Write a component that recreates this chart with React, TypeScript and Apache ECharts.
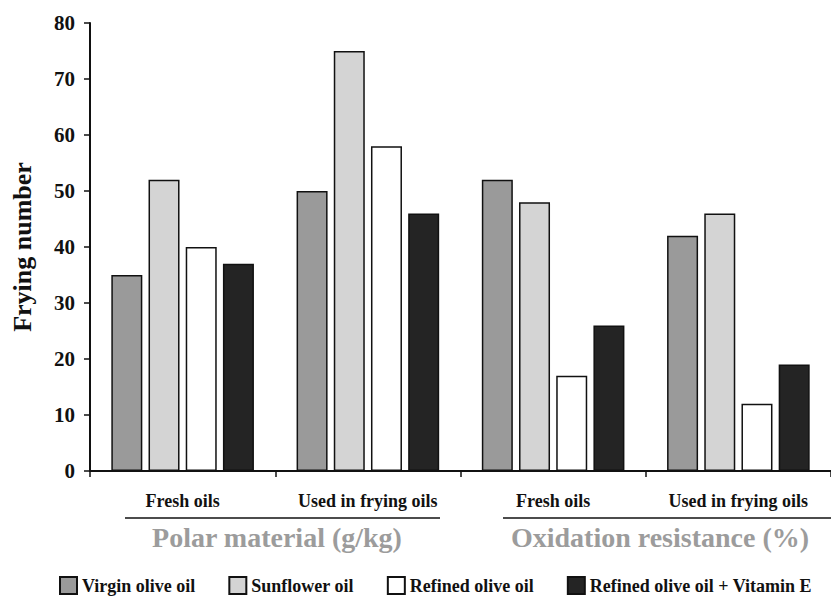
import React, { useEffect, useRef } from "react";
import * as echarts from "echarts";

const categories = ["Fresh oils", "Used in frying oils", "Fresh oils", "Used in frying oils"];
const virginOlive = [35, 50, 52, 42];
const sunflower = [52, 75, 48, 46];
const refinedOlive = [40, 58, 17, 12];
const refinedVitE = [37, 46, 26, 19];
const yTicks = [0, 10, 20, 30, 40, 50, 60, 70, 80];
const groupTitles = ["Polar material (g/kg)", "Oxidation resistance (%)"];
const seriesNames = ["Virgin olive oil", "Sunflower oil", "Refined olive oil", "Refined olive oil + Vitamin E"];

const FONT = "'Liberation Serif', 'Times New Roman', serif";

export default function App() {
  const ref = useRef<HTMLDivElement>(null);

  useEffect(() => {
    if (!ref.current) return;
    const chart = echarts.init(ref.current, null, { renderer: "svg" });

    const mk = (name: string, data: number[], color: string) => ({
      name,
      type: "bar" as const,
      data,
      barWidth: 31,
      barGap: "20%",
      itemStyle: { color, borderColor: "#111", borderWidth: 1.5 },
    });

    const groupTitle = (text: string, x: number) => ({
      type: "text",
      x,
      y: 537,
      style: {
        text,
        fill: "#9c9c9c",
        font: `bold 28px ${FONT}`,
        textAlign: "center",
        textVerticalAlign: "middle",
      },
    });

    chart.setOption({
      animation: false,
      backgroundColor: "#fff",
      textStyle: { fontFamily: FONT },
      grid: { left: 90, right: 0, top: 23, bottom: 131, containLabel: false },
      xAxis: {
        type: "category",
        data: categories,
        axisLine: { lineStyle: { color: "#111", width: 2 } },
        axisTick: { show: true, length: 6, alignWithLabel: false, lineStyle: { color: "#111", width: 1.5 } },
        axisLabel: {
          color: "#111",
          fontFamily: FONT,
          fontWeight: "bold",
          fontSize: 18,
          margin: 21,
        },
      },
      yAxis: {
        type: "value",
        min: yTicks[0],
        max: yTicks[yTicks.length - 1],
        interval: 10,
        name: "Frying number",
        nameLocation: "middle",
        nameGap: 55,
        nameTextStyle: { color: "#111", fontFamily: FONT, fontWeight: "bold", fontSize: 26 },
        axisLine: { show: true, lineStyle: { color: "#111", width: 2 } },
        axisTick: { show: true, length: 6, lineStyle: { color: "#111", width: 1.5 } },
        splitLine: { show: false },
        axisLabel: {
          color: "#111",
          fontFamily: FONT,
          fontWeight: "bold",
          fontSize: 21,
          margin: 15,
        },
      },
      legend: {
        left: 59,
        top: 576,
        padding: 0,
        itemWidth: 17,
        itemHeight: 17,
        itemGap: 33,
        icon: "rect",
        textStyle: { color: "#111", fontFamily: FONT, fontWeight: "bold", fontSize: 18 },
        data: seriesNames,
      },
      graphic: [
        { type: "line", shape: { x1: 125, y1: 518, x2: 440, y2: 518 }, style: { stroke: "#111", lineWidth: 1.3 } },
        { type: "line", shape: { x1: 503, y1: 518, x2: 831, y2: 518 }, style: { stroke: "#111", lineWidth: 1.3 } },
        groupTitle(groupTitles[0], 277),
        groupTitle(groupTitles[1], 660),
      ],
      series: [
        mk(seriesNames[0], virginOlive, "#9a9a9a"),
        mk(seriesNames[1], sunflower, "#d4d4d4"),
        mk(seriesNames[2], refinedOlive, "#ffffff"),
        mk(seriesNames[3], refinedVitE, "#242424"),
      ],
    });

    return () => chart.dispose();
  }, []);

  return <div ref={ref} style={{ width: 831, height: 602, position: "absolute", left: 0, top: 0 }} />;
}
